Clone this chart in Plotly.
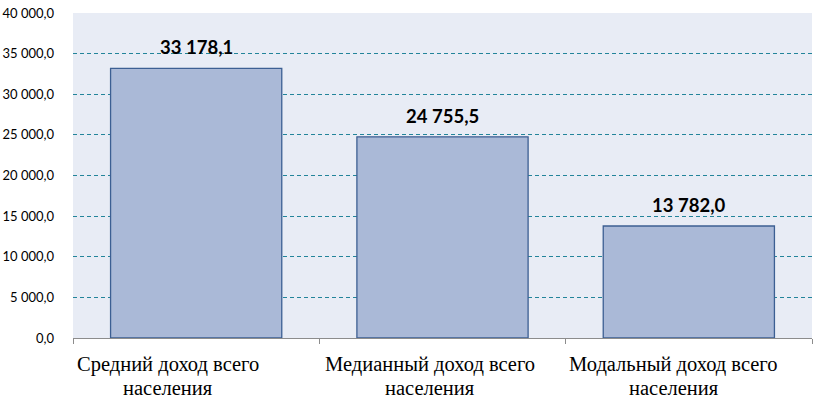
import plotly.graph_objects as go

categories = ["Средний доход всего населения", "Медианный доход всего населения", "Модальный доход всего населения"]
label_line1 = ["Средний доход всего", "Медианный доход всего", "Модальный доход всего"]
label_line2 = ["населения", "населения", "населения"]
values = [33178.1, 24755.5, 13782.0]
y_ticks = [0, 5000, 10000, 15000, 20000, 25000, 30000, 35000, 40000]

# horizontal offsets of the wrapped category labels (as drawn in the original)
label_xshift = [-28, -13, -15]

fig = go.Figure()
fig.add_trace(go.Bar(
    x=categories, y=values,
    marker=dict(color="#AAB9D7", line=dict(color="#3C5F93", width=1.3)),
    hoverinfo="skip",
))
for c, v in zip(categories, values):
    fig.add_annotation(x=c, y=v, text="<b>" + f"{v:,.1f}".replace(",", " ").replace(".", ",") + "</b>",
                       showarrow=False, yanchor="bottom", yshift=8,
                       font=dict(family="Lato, Open Sans, sans-serif", size=18.5, color="#000000"))
for c, l1, l2, dx in zip(categories, label_line1, label_line2, label_xshift):
    for txt, dy in ((l1, -14), (l2, -38)):
        fig.add_annotation(x=c, y=0, text=txt, showarrow=False, yanchor="top", xanchor="center",
                           xshift=dx, yshift=dy, borderpad=0,
                           font=dict(family="Liberation Serif, Times New Roman, serif", size=20.5, color="#000000"))

fig.update_layout(
    width=819, height=399,
    margin=dict(l=73, r=7, t=13, b=61),
    paper_bgcolor="#FFFFFF",
    plot_bgcolor="#E8ECF5",
    separators=", ",
    bargap=0.305,
    showlegend=False,
)
fig.update_yaxes(
    range=[0, 40000], tickvals=y_ticks, tickformat=",.1f",
    showgrid=True, gridcolor="#22849A", griddash="4px,3px", gridwidth=1,
    zeroline=False, showline=False, automargin=False,
    tickfont=dict(family="Lato, Open Sans, sans-serif", size=13, color="#000000"),
    ticklabelstandoff=18,
)
fig.update_xaxes(
    showline=True, linecolor="#8C8C8C", linewidth=1, automargin=False,
    ticks="outside", tickson="boundaries", ticklen=5, tickcolor="#8C8C8C",
    showticklabels=False,
)
fig.write_html("out.html")
